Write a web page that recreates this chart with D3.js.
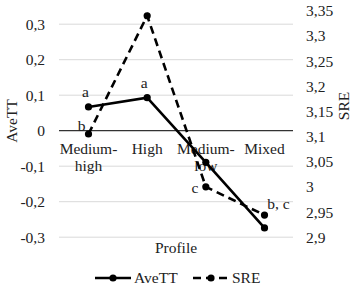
<!DOCTYPE html>
<html><head><meta charset="utf-8">
<script src="https://cdn.jsdelivr.net/npm/d3@7"></script>
<style>body{margin:0;background:#fff}svg{display:block}</style>
</head><body>
<svg id="c" width="353" height="293"></svg>
<script>
const categories = [["Medium-","high"],["High"],["Medium-","low"],["Mixed"]];
const catKeys = ["Medium-high","High","Medium-low","Mixed"];
const aveTT = [0.067, 0.093, -0.089, -0.274];
const sre = [3.105, 3.34, 3.0, 2.944];
const aveLabels = ["a","a","",""];
const sreLabels = ["b","","c","b, c"];
const leftTicks = [-0.3,-0.2,-0.1,0,0.1,0.2,0.3];
const rightTicks = [2.9,2.95,3,3.05,3.1,3.15,3.2,3.25,3.3,3.35];

const FONT = "Liberation Serif";
const FS = "15.5px";
const svg = d3.select("#c");
const fmt = v => String(+v.toFixed(2)).replace(".", ",");
const x = d3.scalePoint().domain(catKeys).range([88.5, 264.5]);
const yL = d3.scaleLinear().domain([-0.3, 0.3]).range([237.2, 24.2]);
const yR = d3.scaleLinear().domain([2.9, 3.35]).range([237.2, 10.7]);
const x0 = 59, x1 = 293;

// gridlines
svg.append("g").selectAll("line").data(leftTicks).join("line")
  .attr("x1", x0).attr("x2", x1)
  .attr("y1", d => yL(d)).attr("y2", d => yL(d))
  .attr("stroke", d => d === 0 ? "#333" : "#d9d9d9").attr("stroke-width", d => d === 0 ? 1.2 : 1);

// left axis
const la = svg.append("g").attr("transform", `translate(${x0},0)`)
  .call(d3.axisLeft(yL).tickValues(leftTicks).tickFormat(fmt).tickSize(0).tickPadding(14));
la.select(".domain").remove();

// right axis
const ra = svg.append("g").attr("transform", `translate(${x1},0)`)
  .call(d3.axisRight(yR).tickValues(rightTicks).tickFormat(fmt).tickSize(0).tickPadding(13));
ra.select(".domain").remove();

// category labels
const cg = svg.append("g");
catKeys.forEach((k, i) => {
  const t = cg.append("text").attr("x", x(k)).attr("y", 154).attr("text-anchor", "middle");
  categories[i].forEach((s, j) => t.append("tspan").attr("x", x(k)).attr("dy", j ? 17 : 0).text(s));
});

// lines
const lineL = d3.line().x((d, i) => x(catKeys[i])).y(d => yL(d));
const lineR = d3.line().x((d, i) => x(catKeys[i])).y(d => yR(d));
svg.append("path").attr("d", lineL(aveTT)).attr("fill", "none").attr("stroke", "#000").attr("stroke-width", 2.6);
svg.append("path").attr("d", lineR(sre)).attr("fill", "none").attr("stroke", "#000").attr("stroke-width", 2.6).attr("stroke-dasharray", "8,5");
svg.append("g").selectAll("circle").data(aveTT).join("circle")
  .attr("cx", (d, i) => x(catKeys[i])).attr("cy", d => yL(d)).attr("r", 3.6).attr("fill", "#000");
svg.append("g").selectAll("circle").data(sre).join("circle")
  .attr("cx", (d, i) => x(catKeys[i])).attr("cy", d => yR(d)).attr("r", 3.6).attr("fill", "#000");

// point labels
svg.append("g").selectAll("text").data(aveTT).join("text")
  .attr("x", (d, i) => x(catKeys[i]) - 3).attr("y", d => yL(d) - 10).attr("text-anchor", "middle")
  .text((d, i) => aveLabels[i]);
const sreOff = [[-7, -3], [0, 0], [-11, 6], [14, -6]];
svg.append("g").selectAll("text").data(sre).join("text")
  .attr("x", (d, i) => x(catKeys[i]) + sreOff[i][0]).attr("y", (d, i) => yR(d) + sreOff[i][1]).attr("text-anchor", "middle")
  .text((d, i) => sreLabels[i]);

// axis titles
svg.append("text").attr("transform", "translate(17,121) rotate(-90)").attr("text-anchor", "middle").text("AveTT");
svg.append("text").attr("transform", "translate(349,106) rotate(-90)").attr("text-anchor", "middle").text("SRE");
svg.append("text").attr("x", 176).attr("y", 253).attr("text-anchor", "middle").text("Profile");

// legend
const lg = svg.append("g");
const legendItems = [{name: "AveTT", x: 95, dash: null}, {name: "SRE", x: 193, dash: "8,5"}];
legendItems.forEach(it => {
  lg.append("line").attr("x1", it.x).attr("x2", it.x + 36).attr("y1", 278).attr("y2", 278)
    .attr("stroke", "#000").attr("stroke-width", 2.6).attr("stroke-dasharray", it.dash);
  lg.append("circle").attr("cx", it.x + 18).attr("cy", 278).attr("r", 3.6).attr("fill", "#000");
  lg.append("text").attr("x", it.x + 39).attr("y", 283).text(it.name);
});

svg.selectAll("text").attr("font-family", FONT).attr("font-size", FS).attr("fill", "#222");
svg.selectAll("g").attr("font-family", FONT).attr("font-size", FS);
</script>
</body></html>
